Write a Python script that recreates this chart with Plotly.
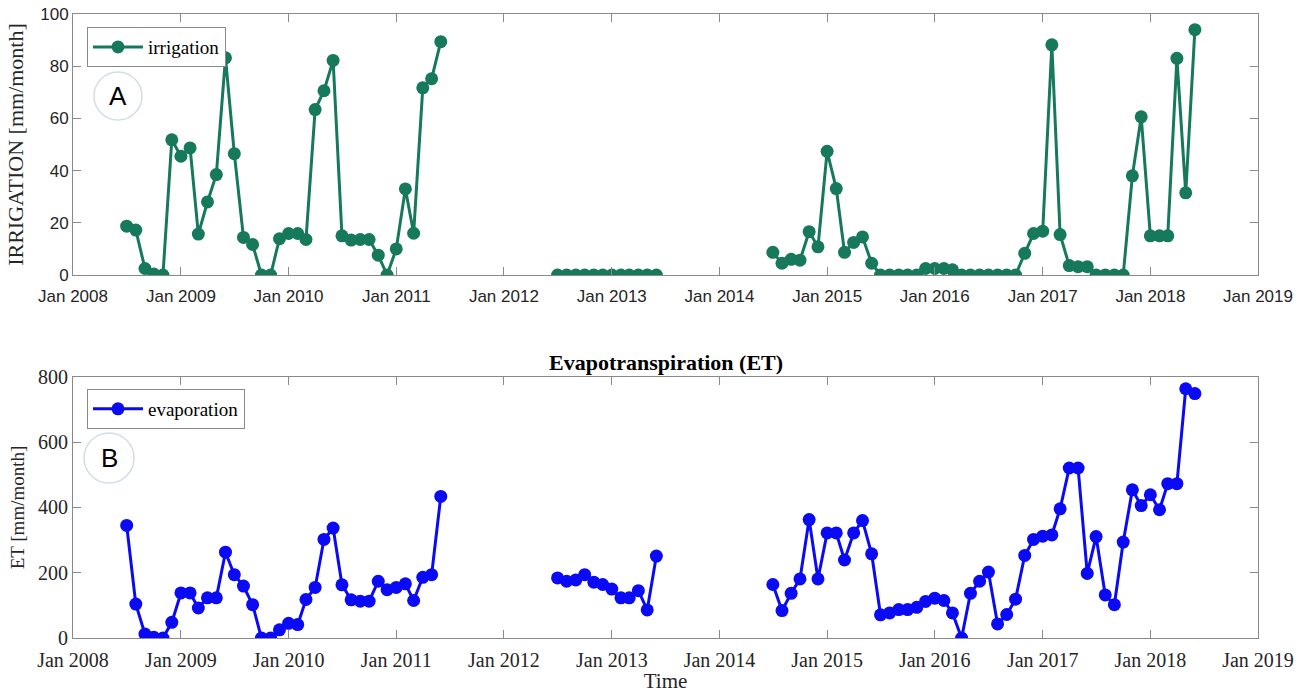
import pandas as pd
import plotly.graph_objects as go

# ---- data (monthly values) ----
seg_starts = ["2008-07-01", "2012-07-01", "2014-07-01"]

irrigation_seg1 = [18.7, 17.2, 2.5, 0.4, 0, 51.8, 45.5, 48.7, 15.7, 28, 38.5, 83.2,
                   46.5, 14.4, 11.7, 0, 0, 13.9, 15.9, 15.9, 13.6, 63.4, 70.6, 82.2,
                   15, 13.4, 13.6, 13.6, 7.6, 0, 10, 33, 16, 71.7, 75.2, 89.4]
irrigation_seg2 = [0, 0, 0, 0, 0, 0, 0, 0, 0, 0, 0, 0]
irrigation_seg3 = [8.7, 4.5, 6, 5.7, 16.6, 10.8, 47.4, 33.1, 8.7, 12.5, 14.6, 4.5,
                   0, 0, 0, 0, 0, 2.5, 2.5, 2.5, 2, 0, 0, 0, 0, 0, 0, 0,
                   8.3, 15.9, 16.8, 88.2, 15.5, 3.6, 3.2, 3.2, 0, 0, 0, 0,
                   38, 60.6, 15, 15, 15, 83, 31.5, 94]

evaporation_seg1 = [345, 104, 12, 2, 0, 48, 138, 138, 92, 123, 123, 263,
                    194, 159, 102, 0, 0, 25, 45, 41, 118, 155, 302, 337,
                    163, 117, 113, 113, 174, 148, 155, 166, 115, 186, 194, 434]
evaporation_seg2 = [184, 174, 178, 194, 171, 164, 150, 123, 123, 145, 86, 251]
evaporation_seg3 = [164, 84, 137, 181, 363, 181, 322, 322, 239, 322, 360, 258,
                    71, 77, 87, 87, 94, 112, 122, 115, 77, 0, 137, 174,
                    202, 43, 72, 119, 253, 302, 312, 316, 396, 521, 521, 198,
                    311, 132, 102, 294, 454, 406, 439, 393, 473, 473, 764, 749]

years = list(range(2008, 2020))
tick_dates = [f"{y}-01-01" for y in years]
tick_labels = [f"Jan {y}" for y in years]


def build(segments):
    xs, ys = [], []
    for start, vals in zip(seg_starts, segments):
        dates = pd.date_range(start, periods=len(vals), freq="MS")
        xs += list(dates)
        ys += list(vals)
        xs.append(None)
        ys.append(None)
    return xs, ys


xi, yi = build([irrigation_seg1, irrigation_seg2, irrigation_seg3])
xe, ye = build([evaporation_seg1, evaporation_seg2, evaporation_seg3])

GREEN = "#17795c"
BLUE = "#0a0af5"
FRAME = "#8a8a8a"
TXT = "#262626"
SERIF = "Liberation Serif, Times New Roman, serif"
SANS = "Liberation Sans, Arial, sans-serif"

fig = go.Figure()
fig.add_trace(go.Scatter(x=xi, y=yi, mode="lines+markers", name="irrigation",
                         line=dict(color=GREEN, width=3),
                         marker=dict(color=GREEN, size=13),
                         xaxis="x", yaxis="y", legend="legend"))
fig.add_trace(go.Scatter(x=xe, y=ye, mode="lines+markers", name="evaporation",
                         line=dict(color=BLUE, width=3),
                         marker=dict(color=BLUE, size=13),
                         xaxis="x2", yaxis="y2", legend="legend2"))

axis_common = dict(showline=True, linecolor=FRAME, linewidth=1, mirror="ticks",
                   ticks="inside", ticklen=8, tickcolor=FRAME, showgrid=False,
                   zeroline=False, automargin=False, ticklabeloverflow="allow")

fig.update_layout(
    width=1308, height=693,
    margin=dict(l=73, r=50, t=14, b=55),
    paper_bgcolor="white", plot_bgcolor="white",
    xaxis=dict(domain=[0, 1], anchor="y", range=["2008-01-01", "2019-01-01"],
               tickvals=tick_dates, ticktext=tick_labels,
               tickfont=dict(family=SANS, size=17, color=TXT),
               ticklabelstandoff=6, **axis_common),
    yaxis=dict(domain=[0.5817, 1], anchor="x", range=[0, 100],
               tickvals=[0, 20, 40, 60, 80, 100],
               tickfont=dict(family=SANS, size=17, color=TXT),
               title=dict(text="IRRIGATION [mm/month]",
                          font=dict(family=SERIF, size=22, color=TXT), standoff=10),
               **axis_common),
    xaxis2=dict(domain=[0, 1], anchor="y2", range=["2008-01-01", "2019-01-01"],
                tickvals=tick_dates, ticktext=tick_labels,
                tickfont=dict(family=SERIF, size=20, color=TXT),
                ticklabelstandoff=4,
                title=dict(text="Time", font=dict(family=SERIF, size=21, color=TXT),
                           standoff=2),
                **axis_common),
    yaxis2=dict(domain=[0, 0.4183], anchor="x2", range=[0, 800],
                tickvals=[0, 200, 400, 600, 800],
                tickfont=dict(family=SERIF, size=20, color=TXT),
                title=dict(text="ET [mm/month]",
                           font=dict(family=SERIF, size=19, color=TXT), standoff=8),
                **axis_common),
    legend=dict(x=0.0118, y=0.979, xanchor="left", yanchor="top",
                bgcolor="white", bordercolor=FRAME, borderwidth=1, itemwidth=50,
                font=dict(family=SERIF, size=19, color="black")),
    legend2=dict(x=0.0118, y=0.399, xanchor="left", yanchor="top",
                 bgcolor="white", bordercolor=FRAME, borderwidth=1, itemwidth=50,
                 font=dict(family=SERIF, size=19, color="black")),
    showlegend=True,
)

fig.add_annotation(text="<b>Evapotranspiration (ET)</b>", xref="paper", yref="paper",
                   x=0.5, y=0.4183, xanchor="center", yanchor="bottom",
                   showarrow=False, yshift=0,
                   font=dict(family=SERIF, size=22, color="black"))

# panel labels
for label, (x0, y0, x1, y1) in {"A": (0.0177, 0.830, 0.0582, 0.907),
                                "B": (0.0093, 0.2484, 0.0515, 0.3285)}.items():
    fig.add_shape(type="circle", xref="paper", yref="paper", x0=x0, y0=y0, x1=x1, y1=y1,
                  line=dict(color="#d3dde8", width=1.5), fillcolor="rgba(0,0,0,0)")
    fig.add_annotation(text=label, xref="paper", yref="paper", x=(x0 + x1) / 2,
                       y=(y0 + y1) / 2, xanchor="center", yanchor="middle",
                       showarrow=False,
                       font=dict(family=SANS, size=26, color="black"))

fig.write_html("out.html",
               config={"displayModeBar": False},
               post_script="document.body.style.margin='0';"
                           "document.body.style.overflow='hidden';")
